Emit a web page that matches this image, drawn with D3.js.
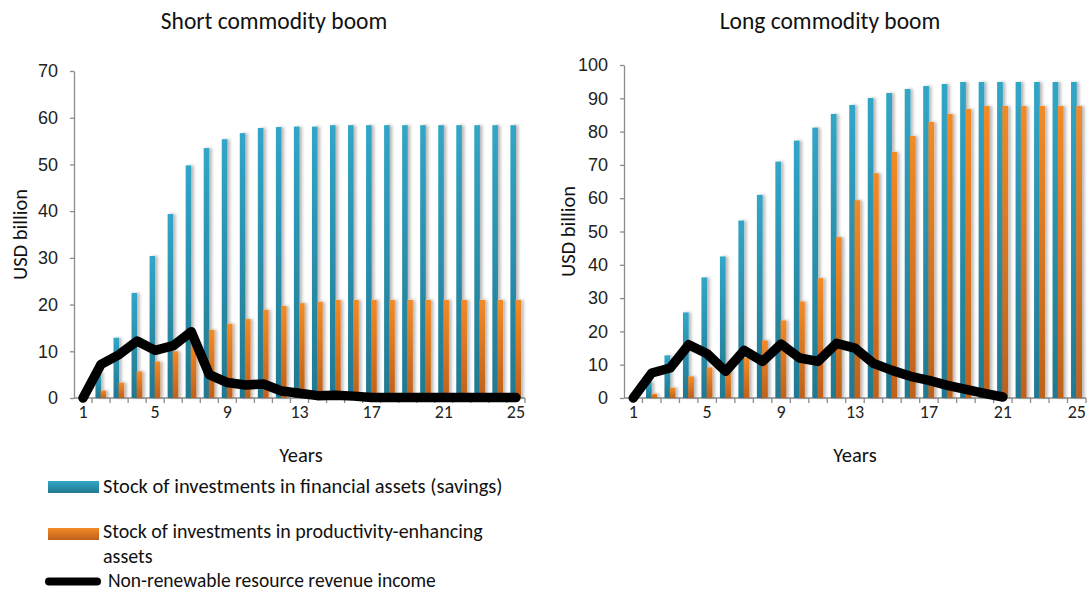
<!DOCTYPE html>
<html>
<head>
<meta charset="utf-8">
<script src="https://cdn.jsdelivr.net/npm/d3@7"></script>
<style>
  body { margin: 0; background: #fff; }
  svg { display: block; font-family: Carlito, Lato, "Open Sans", sans-serif; }
  .tick text { font-size: 18px; fill: #222; }
  .axis path, .axis line { stroke: #8c8c8c; stroke-width: 1.3; }
  .title { font-size: 23.5px; fill: #111; }
  .axis-label { font-size: 20.5px; fill: #111; }
  .legend-title { font-size: 20.5px; fill: #111; }
</style>
</head>
<body>
<div class="chart-container"></div>
<script>
var width = 1088;
var height = 591;

var years = d3.range(1, 26);
var yearTicks = [1, 5, 9, 13, 17, 21, 25];

// Short commodity boom
var shortSavings = [0, 5.5, 12.9, 22.5, 30.4, 39.4, 49.8, 53.5, 55.4, 56.7, 57.8, 58.0, 58.1, 58.1, 58.4,
  58.4, 58.4, 58.4, 58.4, 58.4, 58.4, 58.4, 58.4, 58.4, 58.4];
var shortProductive = [0, 1.6, 3.3, 5.7, 7.8, 10.0, 12.3, 14.6, 15.9, 16.9, 18.9, 19.7, 20.3, 20.6, 21.0,
  21.0, 21.0, 21.0, 21.0, 21.0, 21.0, 21.0, 21.0, 21.0, 21.0];
var shortRevenue = [0, 7.2, 9.3, 12.2, 10.2, 11.2, 14.2, 5.0, 3.3, 2.8, 3.0, 1.5, 1.0, 0.5, 0.6,
  0.4, 0.1, 0.1, 0.1, 0.1, 0.1, 0.1, 0.1, 0.1, 0.1];
var shortTicks = [0, 10, 20, 30, 40, 50, 60, 70];

// Long commodity boom
var longSavings = [0, 5.0, 12.8, 25.7, 36.2, 42.5, 53.3, 61.0, 71.0, 77.3, 81.2, 85.3, 88.0, 90.1, 91.6,
  92.8, 93.7, 94.3, 94.9, 94.9, 94.9, 94.9, 94.9, 94.9, 94.9];
var longProductive = [0, 1.3, 3.1, 6.5, 9.2, 10.3, 12.0, 17.3, 23.3, 29.0, 36.0, 48.3, 59.4, 67.5, 73.9,
  78.7, 82.9, 85.3, 86.8, 87.7, 87.7, 87.7, 87.7, 87.7, 87.7];
var longRevenue = [0, 7.5, 9.0, 16.0, 13.3, 8.0, 14.3, 11.0, 16.2, 12.0, 11.0, 16.4, 15.0, 10.4, 8.3,
  6.5, 5.3, 3.8, 2.6, 1.4, 0.3, null, null, null, null];
var longTicks = [0, 10, 20, 30, 40, 50, 60, 70, 80, 90, 100];

var svg = d3.select('.chart-container').append('svg')
  .attr('width', width)
  .attr('height', height);

var defs = svg.append('defs');

function gradient(id, top, bottom) {
  var g = defs.append('linearGradient')
    .attr('id', id)
    .attr('x1', 0).attr('y1', 0).attr('x2', 0).attr('y2', 1);
  g.append('stop').attr('offset', '0%').attr('stop-color', top);
  g.append('stop').attr('offset', '100%').attr('stop-color', bottom);
}
gradient('blue-grad', '#31a6c7', '#227890');
gradient('orange-grad', '#f38a26', '#bf611c');

var shadow = defs.append('filter')
  .attr('id', 'bar-shadow')
  .attr('x', '-50%').attr('y', '-5%').attr('width', '250%').attr('height', '110%');
shadow.append('feDropShadow')
  .attr('dx', 2.5).attr('dy', 0)
  .attr('stdDeviation', 1.8)
  .attr('flood-color', '#000')
  .attr('flood-opacity', 0.28);

function buildChart(opts) {
  var x = d3.scaleBand()
    .domain(years)
    .range([opts.left, opts.right])
    .padding(0);

  var y = d3.scaleLinear()
    .domain([0, opts.max])
    .range([opts.bottom, opts.top]);

  var bw = x.bandwidth() * 0.31;
  var g = svg.append('g');

  // y axis
  var gY = g.append('g')
    .attr('class', 'axis')
    .attr('transform', `translate(${opts.left},0)`)
    .call(d3.axisLeft(y).tickValues(opts.ticks).tickSize(4).tickSizeOuter(0).tickPadding(12));

  // x axis with ticks on category boundaries
  var gX = g.append('g')
    .attr('class', 'axis')
    .attr('transform', `translate(0,${opts.bottom})`);
  gX.append('line')
    .attr('x1', opts.left).attr('x2', opts.right);
  gX.selectAll('.xtick')
    .data(years)
    .enter().append('line')
    .attr('class', 'xtick')
    .attr('x1', d => x(d) + x.bandwidth())
    .attr('x2', d => x(d) + x.bandwidth())
    .attr('y1', 0).attr('y2', 5);
  gX.selectAll('.xlabel')
    .data(yearTicks)
    .enter().append('text')
    .attr('class', 'xlabel')
    .attr('x', d => x(d) + x.bandwidth() / 2)
    .attr('y', 20)
    .attr('text-anchor', 'middle')
    .style('font-size', '18px')
    .attr('fill', '#222')
    .text(d => d);

  // bars
  var bars = g.append('g').attr('filter', 'url(#bar-shadow)');
  bars.selectAll('.savings')
    .data(opts.savings)
    .enter().append('rect')
    .attr('x', (d, i) => x(years[i]) + x.bandwidth() / 2 - bw)
    .attr('y', d => y(d))
    .attr('width', bw)
    .attr('height', d => opts.bottom - y(d))
    .attr('fill', 'url(#blue-grad)');
  bars.selectAll('.productive')
    .data(opts.productive)
    .enter().append('rect')
    .attr('x', (d, i) => x(years[i]) + x.bandwidth() / 2 - 0.5)
    .attr('y', d => y(d))
    .attr('width', bw)
    .attr('height', d => opts.bottom - y(d))
    .attr('fill', 'url(#orange-grad)');

  // revenue line
  var line = d3.line()
    .defined(d => d !== null)
    .x((d, i) => x(years[i]) + x.bandwidth() / 2)
    .y(d => y(d));
  g.append('path')
    .datum(opts.revenue)
    .attr('d', line)
    .attr('fill', 'none')
    .attr('stroke', '#000')
    .attr('stroke-width', 9.5)
    .attr('stroke-linejoin', 'round')
    .attr('stroke-linecap', 'round');

  // titles
  g.append('text')
    .attr('class', 'title')
    .attr('x', opts.titleX).attr('y', 29)
    .attr('text-anchor', 'middle')
    .text(opts.title);

  g.append('text')
    .attr('class', 'axis-label')
    .attr('text-anchor', 'middle')
    .attr('transform', `translate(${opts.yLabelX},${(opts.top + opts.bottom) / 2}) rotate(-90)`)
    .text('USD billion');

  g.append('text')
    .attr('class', 'axis-label')
    .attr('x', opts.xLabelX).attr('y', 462)
    .attr('text-anchor', 'middle')
    .text('Years');
}

buildChart({
  left: 74, right: 525, top: 71, bottom: 398, max: 70,
  ticks: shortTicks,
  savings: shortSavings, productive: shortProductive, revenue: shortRevenue,
  title: 'Short commodity boom', titleX: 274, yLabelX: 27, xLabelX: 301
});

buildChart({
  left: 624, right: 1086, top: 65, bottom: 398, max: 100,
  ticks: longTicks,
  savings: longSavings, productive: longProductive, revenue: longRevenue,
  title: 'Long commodity boom', titleX: 830, yLabelX: 575, xLabelX: 855
});

/*
 * Legend
 */
var legend = svg.append('g').attr('class', 'legend');

legend.append('rect')
  .attr('x', 48).attr('y', 481).attr('width', 51).attr('height', 12)
  .attr('fill', 'url(#blue-grad)');
legend.append('text')
  .attr('class', 'legend-title')
  .attr('x', 103).attr('y', 493)
  .text('Stock of investments in financial assets (savings)');

legend.append('rect')
  .attr('x', 48).attr('y', 528).attr('width', 51).attr('height', 12)
  .attr('fill', 'url(#orange-grad)');
legend.append('text')
  .attr('class', 'legend-title')
  .attr('x', 103).attr('y', 538)
  .style('font-size', '20px')
  .text('Stock of investments in productivity-enhancing');
legend.append('text')
  .attr('class', 'legend-title')
  .attr('x', 103).attr('y', 563)
  .style('font-size', '20px')
  .text('assets');

legend.append('path')
  .attr('d', 'M49,581.5H97')
  .attr('stroke', '#000')
  .attr('stroke-width', 8)
  .attr('stroke-linecap', 'round');
legend.append('text')
  .attr('class', 'legend-title')
  .attr('x', 108).attr('y', 586.5)
  .style('font-size', '19.5px')
  .text('Non-renewable resource revenue income');
</script>
</body>
</html>
